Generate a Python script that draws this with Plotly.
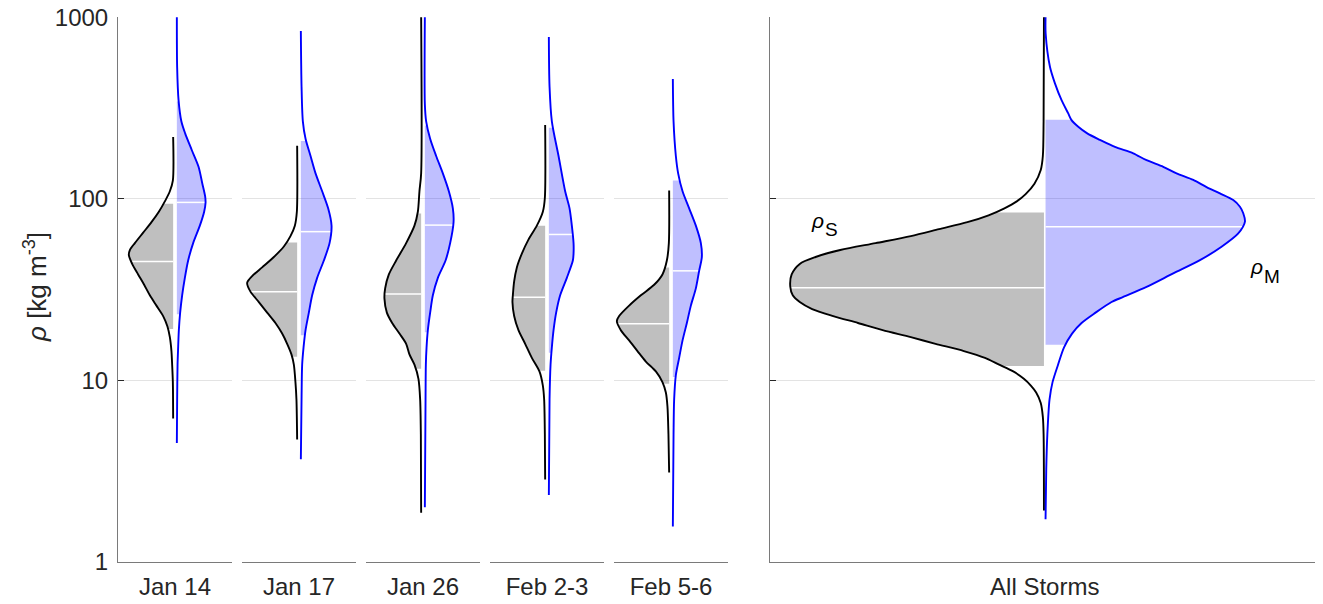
import numpy as np
import plotly.graph_objects as go

# ---------------- data ----------------
categories = ["Jan 14", "Jan 17", "Jan 26", "Feb 2-3", "Feb 5-6", "All Storms"]

# rho_S (snow, grey) kernel density profiles: density values (kg m^-3) and relative widths
jan14_S_rho = [219, 126, 110, 96.7, 84.8, 74.3, 65.1, 57.0, 52.2, 48.9, 43.8, 38.3, 33.6, 29.4, 25.8, 22.6, 19.8, 17.3, 14.5, 12.2, 9.78, 6.16]
jan14_S_den = [0, 0.3, 3.3, 8.3, 14.3, 21.7, 30, 38.3, 43.3, 44.3, 41, 35, 29, 23.3, 16.7, 10, 5.7, 3.3, 1.7, 1, 0.3, 0]
jan17_S_rho = [196, 84.8, 71.1, 62.3, 54.6, 47.8, 41.9, 37.5, 34.4, 30.8, 27.0, 23.6, 20.7, 18.1, 15.9, 13.9, 12.2, 9.78, 7.85, 4.73]
jan17_S_den = [0, 0.3, 2.3, 6.7, 13.3, 23.3, 35, 45, 50, 46.7, 38.3, 30, 21.7, 15, 10, 5.7, 3.3, 1.7, 0.7, 0]
jan26_S_rho = [1000, 138, 110, 84.8, 71.1, 57.0, 45.7, 38.3, 32.1, 28.2, 23.6, 20.7, 18.1, 15.9, 13.9, 12.2, 10.2, 7.85, 5.05, 1.87]
jan26_S_den = [0, 0, 1.7, 3.3, 6.7, 15, 25, 32.3, 36, 36.7, 34.3, 29, 21.7, 15, 11.7, 6.7, 2.7, 1, 0.3, 0]
feb23_S_rho = [255, 101, 84.8, 71.1, 59.6, 49.9, 41.9, 35.1, 29.4, 27.0, 22.6, 18.9, 15.9, 13.3, 11.2, 9.36, 7.85, 5.05, 2.85]
feb23_S_den = [0, 0.3, 2.3, 8.3, 16.7, 23.3, 28.3, 31, 32.3, 32.7, 31, 26.7, 20, 13.3, 5.7, 2.3, 1, 0.3, 0]
feb56_S_rho = [111, 57.0, 45.7, 38.3, 33.6, 29.4, 25.8, 22.6, 21.2, 18.9, 16.6, 14.5, 12.7, 11.2, 9.78, 8.57, 7.19, 5.05, 3.11]
feb56_S_den = [0, 0.3, 2.3, 6.7, 15, 28.3, 40, 50, 52.3, 48.3, 40, 31.7, 23.3, 13.3, 6.7, 3.3, 1.7, 0.7, 0]
all_S_rho = [1000, 267, 172, 144, 121, 106, 96.7, 88.6, 81.1, 74.3, 68.0, 62.3, 57.0, 52.2, 47.8, 43.8, 38.3, 32.9,
             29.4, 27.0, 24.7, 22.6, 20.7, 18.9, 17.3, 15.9, 14.5, 13.3, 12.2, 11.2, 10.2, 9.36, 8.57, 7.51, 6.30, 5.05, 1.92]
all_S_den = [0, 0.35, 1.1, 3.2, 9.5, 18.3, 27.2, 39.5, 55.4, 76.6, 104.9, 133.1, 168.4, 203.7, 228.4, 244.2, 252.3, 253.7,
             251.2, 244.2, 231.8, 210.7, 186, 161.3, 133.1, 108.4, 80.1, 59, 44.8, 30.7, 20.1, 13.1, 7.8, 3.2, 1.1, 0.35, 0]

# rho_M (model, blue)
jan14_M_rho = [1000, 530, 349, 267, 229, 185, 150, 121, 103, 95.0, 84.8, 71.1, 57.0, 45.7, 36.7, 29.4, 23.6, 18.9, 15.2, 12.2, 7.85, 4.52]
jan14_M_den = [0, 0.3, 1.7, 4.5, 8.3, 15, 21.7, 25.5, 28.3, 28.7, 27.3, 23, 16.3, 11.3, 8, 5.3, 3.3, 2, 1.3, 0.7, 0.3, 0]
jan17_M_rho = [838, 414, 267, 214, 172, 138, 110, 88.6, 71.1, 57.0, 45.7, 36.7, 29.4, 23.6, 18.9, 15.2, 12.2, 7.85, 3.68]
jan17_M_den = [0, 0.7, 2, 4.7, 9.7, 14.7, 21.3, 27.3, 30.7, 28.7, 23, 16.3, 11.3, 8, 4.7, 2.7, 1.3, 0.7, 0]
jan26_M_rho = [1000, 332, 267, 214, 172, 138, 110, 88.6, 74.3, 57.0, 45.7, 36.7, 29.4, 23.6, 18.9, 15.2, 12.2, 7.85, 2.00]
jan26_M_den = [0, 0, 1.3, 5.3, 11.3, 18, 24, 28, 28.7, 25.3, 20.7, 13, 8, 5.3, 3, 1.7, 1, 0.7, 0]
feb23_M_rho = [778, 414, 267, 172, 110, 88.6, 71.1, 57.0, 49.9, 45.7, 36.7, 29.4, 23.6, 18.9, 15.2, 12.2, 7.85, 2.34]
feb23_M_den = [0, 0.7, 3, 9.7, 16.3, 20.7, 23, 24.7, 24.7, 24, 18, 11.3, 7.3, 4.7, 3, 1.7, 0.7, 0]
feb56_M_rho = [456, 267, 172, 138, 110, 88.6, 71.1, 57.0, 47.8, 40.1, 32.1, 25.8, 20.7, 16.6, 13.3, 10.7, 7.85, 5.05, 1.57]
feb56_M_den = [0, 0.7, 3, 5.3, 9.7, 16.3, 23, 28, 29, 26.3, 23, 18, 14, 9.7, 6.3, 3, 1.3, 0.7, 0]
all_M_rho = [1000, 813, 533, 432, 349, 295, 271, 249, 229, 211, 193, 178, 163, 150, 138, 127, 116, 107, 98.4, 90.4,
             83.2, 74.8, 64.4, 54.4, 45.9, 38.8, 32.7, 28.8, 27.0, 23.6, 20.7, 18.1, 15.2, 12.2, 9.78, 7.85, 5.05, 3.25, 1.72]
all_M_den = [0, 0.1, 4.4, 9.4, 16, 22.7, 26, 32.7, 41.7, 54.4, 69.4, 87.7, 101, 117.7, 131, 147.7, 161, 174.4, 187.7, 194.4,
             197.7, 199.4, 192.7, 176, 154.4, 127.7, 101, 77.7, 66, 50, 36, 26.5, 18.5, 12.5, 7, 4, 1.8, 0.7, 0]

# shaded-range limits and medians per category
S_lo = [19.2, 13.5, 11.6, 11.3, 9.57, 12.0]
S_med = [45.1, 30.8, 29.9, 28.7, 20.5, 32.4]
S_hi = [93.8, 57.5, 83.0, 71.1, 41.9, 84.0]
M_lo = [23.1, 17.7, 18.4, 14.2, 10.45, 15.7]
M_med = [95.5, 65.9, 71.6, 63.6, 40.1, 70.2]
M_hi = [343, 208, 253, 246, 126, 272]

y_ticks = [1, 10, 100, 1000]
y_ticktext = ["1", "10", "100", "1000"]

S_profiles = [(jan14_S_rho, jan14_S_den), (jan17_S_rho, jan17_S_den), (jan26_S_rho, jan26_S_den),
              (feb23_S_rho, feb23_S_den), (feb56_S_rho, feb56_S_den), (all_S_rho, all_S_den)]
M_profiles = [(jan14_M_rho, jan14_M_den), (jan17_M_rho, jan17_M_den), (jan26_M_rho, jan26_M_den),
              (feb23_M_rho, feb23_M_den), (feb56_M_rho, feb56_M_den), (all_M_rho, all_M_den)]

# ---------------- layout geometry ----------------
# the page body has an 8 px margin, so the figure is drawn 8 px smaller and everything is shifted by it
OFF = 8
W, H = 1323 - OFF, 604 - OFF
x_px = [(118, 232), (242, 356), (366, 480), (490, 604), (614, 728), (770, 1320)]
x_rng = [(-57, 57)] * 5 + [(-274.75, 275.25)]
gaps = [1.85] * 5 + [0.8]


def px(x):
    return (x - OFF) / W


def py(y):
    return (H - (y - OFF)) / H


y_dom = [py(562), py(17)]

FONT = "Liberation Sans, Arial, sans-serif"
TXT = "#262626"
AX = "#7a7a7a"
FS = 24

fig = go.Figure()


def dens_at(rho, den, val):
    lr = np.log10(np.asarray(rho, float))[::-1]
    d = np.asarray(den, float)[::-1]
    return float(np.interp(np.log10(val), lr, d))


def add_half(i, rho, den, lo, med, hi, side, fill_col):
    xa = "x" if i == 0 else f"x{i+1}"
    ya = "y" if i == 0 else f"y{i+1}"
    g = gaps[i]
    rho = np.asarray(rho, float)
    den = np.asarray(den, float)
    # shaded range (clipped violin)
    m = (rho < hi) & (rho > lo)
    fr = np.concatenate([[hi], rho[m], [lo]])
    fd = np.concatenate([[dens_at(rho, den, hi)], den[m], [dens_at(rho, den, lo)]])
    fig.add_trace(go.Scatter(x=[side * g, side * g], y=[hi, lo], xaxis=xa, yaxis=ya, mode="lines",
                             line=dict(width=0, color=fill_col), hoverinfo="skip", showlegend=False))
    fig.add_trace(go.Scatter(x=side * (g + fd), y=fr, xaxis=xa, yaxis=ya, mode="lines",
                             line=dict(width=0, color=fill_col, shape="spline", smoothing=0.8),
                             fill="tonextx", fillcolor=fill_col, hoverinfo="skip", showlegend=False))
    # median
    dm = dens_at(rho, den, med)
    fig.add_trace(go.Scatter(x=[side * g, side * (g + dm)], y=[med, med], xaxis=xa, yaxis=ya, mode="lines",
                             line=dict(width=1.5, color="white"), hoverinfo="skip", showlegend=False))
    return xa, ya, g


outlines = []
for i in range(6):
    for side, prof, lo, med, hi, lc, fc in [
        (-1, S_profiles[i], S_lo[i], S_med[i], S_hi[i], "black", "rgba(0,0,0,0.25)"),
        (1, M_profiles[i], M_lo[i], M_med[i], M_hi[i], "#0000ff", "rgba(0,0,255,0.25)"),
    ]:
        xa, ya, g = add_half(i, prof[0], prof[1], lo, med, hi, side, fc)
        outlines.append(dict(x=side * (g + np.asarray(prof[1], float)), y=prof[0], xa=xa, ya=ya, c=lc))

for o in outlines:
    fig.add_trace(go.Scatter(x=o["x"], y=o["y"], xaxis=o["xa"], yaxis=o["ya"], mode="lines",
                             line=dict(width=1.9, color=o["c"], shape="spline", smoothing=0.8),
                             hoverinfo="skip", showlegend=False))

layout = dict(width=W, height=H, margin=dict(l=0, r=0, t=0, b=0, pad=0, autoexpand=False),
              paper_bgcolor="white", plot_bgcolor="white", showlegend=False,
              font=dict(family=FONT, color=TXT, size=FS))
for i in range(6):
    sx = "" if i == 0 else str(i + 1)
    layout["xaxis" + sx] = dict(domain=[px(x_px[i][0]), px(x_px[i][1])], range=list(x_rng[i]),
                                anchor="y" + sx, showgrid=False, zeroline=False, showline=True,
                                linecolor=AX, linewidth=1, tickvals=[0], ticktext=[categories[i]],
                                ticks="", tickfont=dict(family=FONT, size=FS, color=TXT),
                                ticklabelstandoff=3, automargin=False, fixedrange=True)
    has_axis = i in (0, 5)
    layout["yaxis" + sx] = dict(domain=y_dom, type="log", range=[0, 3.0008], anchor="x" + sx,
                                tickvals=y_ticks, ticktext=y_ticktext, showgrid=True,
                                gridcolor="#e3e3e3", gridwidth=1, zeroline=False,
                                showline=has_axis, linecolor=AX, linewidth=1,
                                ticks="inside" if has_axis else "", ticklen=6, tickcolor=TXT,
                                showticklabels=(i == 0), tickfont=dict(family=FONT, size=FS, color=TXT),
                                ticklabelstandoff=4, ticklabeloverflow="allow",
                                automargin=False, fixedrange=True)

annotations = [
    dict(text="<i>ρ</i> [kg m<sup>-3</sup>]", x=px(35), y=py(287), xref="paper", yref="paper",
         textangle=-90, showarrow=False, font=dict(family=FONT, size=26, color=TXT),
         xanchor="center", yanchor="middle"),
    dict(text="<i>ρ</i>", x=px(817), y=py(221), xref="paper", yref="paper", showarrow=False,
         font=dict(family=FONT, size=21, color="black"), xanchor="center", yanchor="middle"),
    dict(text="S", x=px(831), y=py(229), xref="paper", yref="paper", showarrow=False,
         font=dict(family=FONT, size=19, color="black"), xanchor="center", yanchor="middle"),
    dict(text="<i>ρ</i>", x=px(1256), y=py(266), xref="paper", yref="paper", showarrow=False,
         font=dict(family=FONT, size=21, color="black"), xanchor="center", yanchor="middle"),
    dict(text="M", x=px(1272), y=py(276), xref="paper", yref="paper", showarrow=False,
         font=dict(family=FONT, size=19, color="black"), xanchor="center", yanchor="middle"),
]
layout["annotations"] = annotations
fig.update_layout(**layout)

fig.write_html("out.html")
